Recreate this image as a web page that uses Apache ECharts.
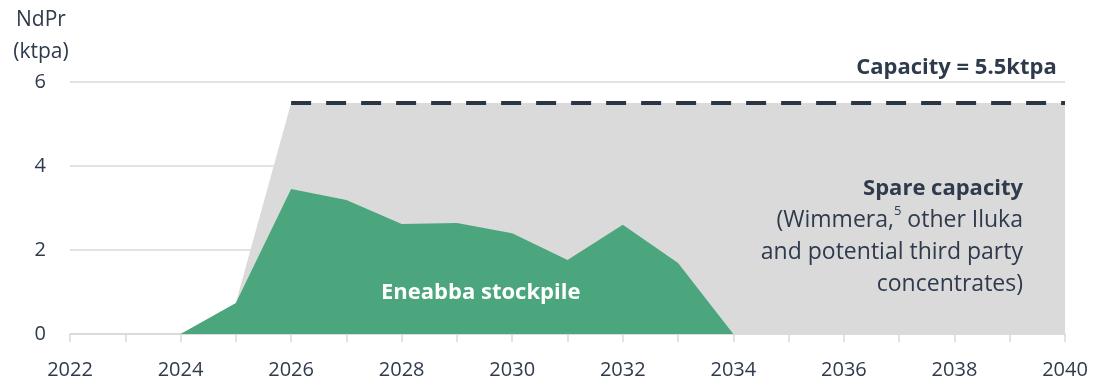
<!DOCTYPE html>
<html><head><meta charset="utf-8">
<script src="https://cdn.jsdelivr.net/npm/echarts@6/dist/echarts.min.js"></script>
<style>html,body{margin:0;padding:0;background:#fff}#c{width:1103px;height:391px}</style>
</head><body><div id="c"></div>
<script>
var years = [2022,2023,2024,2025,2026,2027,2028,2029,2030,2031,2032,2033,2034,2035,2036,2037,2038,2039,2040];
var stockpile = [null,null,0,0.74,3.45,3.19,2.62,2.64,2.40,1.76,2.60,1.69,0,null,null,null,null,null,null];
var spareCapacity = [null,null,null,0.74,5.5,5.5,5.5,5.5,5.5,5.5,5.5,5.5,5.5,5.5,5.5,5.5,5.5,5.5,5.5];
var capacityLine = [null,null,null,null,5.5,5.5,5.5,5.5,5.5,5.5,5.5,5.5,5.5,5.5,5.5,5.5,5.5,5.5,5.5];
var yTicks = [0,2,4,6];

function pairs(arr){ var out=[]; for(var i=0;i<years.length;i++){ if(arr[i]!==null) out.push([years[i],arr[i]]); } return out; }

var txt = '#2f3a4c';
var font = '"Open Sans", sans-serif';
var chart = echarts.init(document.getElementById('c'));
chart.setOption({
  animation:false,
  grid:{left:70,right:38,top:82,bottom:57},
  xAxis:{type:'value',min:2022,max:2040,interval:1,
    axisLine:{lineStyle:{color:'#d9d9d9',width:1.5}},
    axisTick:{show:true,length:8,lineStyle:{color:'#d9d9d9',width:1.5}},
    splitLine:{show:false},
    axisLabel:{color:txt,fontFamily:font,fontSize:20,margin:26,
      formatter:function(v){return (v%2===0)?String(v):'';}}
  },
  yAxis:{type:'value',min:0,max:6,interval:2,
    name:'NdPr\n(ktpa)',nameLocation:'end',nameGap:14,
    nameTextStyle:{color:txt,fontFamily:font,fontSize:21,lineHeight:32,align:'center',padding:[0,0,0,-58]},
    axisLine:{show:false},axisTick:{show:false},
    splitLine:{lineStyle:{color:'#d9d9d9',width:1.5}},
    axisLabel:{color:txt,fontFamily:font,fontSize:20,margin:24,
      formatter:function(v){return yTicks.indexOf(v)>=0?String(v):'';}}
  },
  series:[
    {type:'line',data:pairs(spareCapacity),symbol:'none',lineStyle:{width:0},
     areaStyle:{color:'#dadada',opacity:1},z:1,
     markPoint:{symbol:'circle',symbolSize:0,silent:true,data:[
       {coord:[2039.24,2.32],label:{show:true,position:'inside',align:'right',verticalAlign:'middle',
         formatter:'{b|Spare capacity}\n{r|(Wimmera,}{s|5}{r| other Iluka}\n{r|and potential third party}\n{r|concentrates)}',
         rich:{
           b:{fontFamily:font,fontSize:22,fontWeight:'bold',color:txt,lineHeight:32,align:'right'},
           r:{fontFamily:font,fontSize:23,color:txt,lineHeight:32,align:'right'},
           s:{fontFamily:font,fontSize:13,color:txt,lineHeight:32,verticalAlign:'top',padding:[0,0,12,0]}
         }}},
       {coord:[2039.85,6],label:{show:true,position:'inside',align:'right',verticalAlign:'middle',offset:[0,-14],
         formatter:'Capacity = 5.5ktpa',fontFamily:font,fontSize:22,fontWeight:'bold',color:txt}}
     ]}
    },
    {type:'line',data:pairs(stockpile),symbol:'none',lineStyle:{width:0},
     areaStyle:{color:'#4ba67d',opacity:1},z:2,
     markPoint:{symbol:'circle',symbolSize:0,silent:true,data:[
       {coord:[2029.43,0.98],label:{show:true,position:'inside',align:'center',verticalAlign:'middle',
         formatter:'Eneabba stockpile',fontFamily:font,fontSize:22,fontWeight:'bold',color:'#ffffff'}}
     ]}
    },
    {type:'line',data:pairs(capacityLine),symbol:'none',z:3,
     lineStyle:{color:'#2b3644',width:4,type:[20,15]}}
  ]
});
</script></body></html>
